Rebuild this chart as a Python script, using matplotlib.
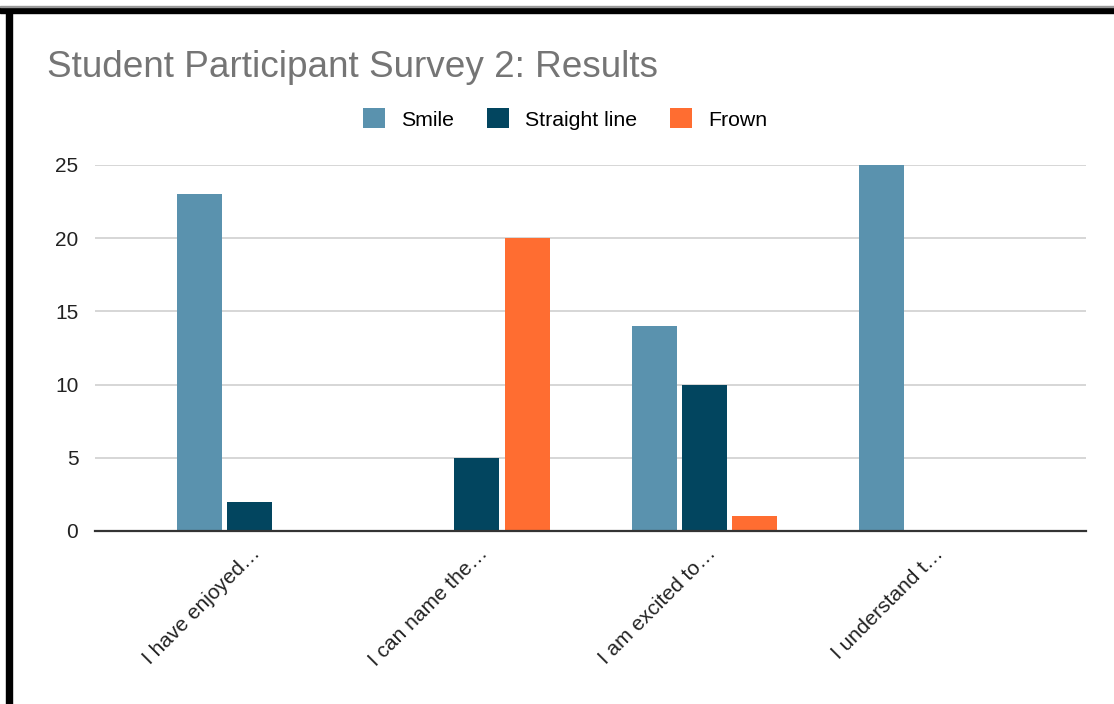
import numpy as np
import matplotlib.pyplot as plt
import matplotlib.transforms as mtransforms
from matplotlib.patches import Rectangle

plt.rcParams['font.family'] = ['Liberation Sans', 'DejaVu Sans']

categories = ["I have enjoyed…", "I can name the…", "I am excited to…", "I understand t…"]
series_names = ["Smile", "Straight line", "Frown"]
smile = [23, 0, 14, 25]
straight_line = [2, 5, 10, 0]
frown = [0, 20, 1, 0]
y_ticks = [0, 5, 10, 15, 20, 25]

colors = ["#5a92ae", "#02455f", "#ff6d31"]

fig = plt.figure(figsize=(11.14, 7.04), dpi=100)
W, H = 1114, 704
ax = fig.add_axes([95 / W, 1 - 531 / H, (1086 - 95) / W, (531 - 165) / H])

x = np.arange(len(categories))
bar_w = 0.198
step = 0.22
handles = []
for i, (vals, name) in enumerate(zip([smile, straight_line, frown], series_names)):
    b = ax.bar(x + (i - 1) * step, vals, width=bar_w, color=colors[i], label=name, zorder=3)
    handles.append(b)

ax.set_xlim(-0.679, 3.677)
ax.set_ylim(0, 25)
ax.set_yticks(y_ticks)
ax.tick_params(axis='y', length=0, labelsize=15, pad=12, colors='#222222')
ax.set_xticks(x)
ax.set_xticklabels(categories, rotation=45, ha='right', va='center', rotation_mode='anchor',
                   fontsize=15, color='#222222')
ax.tick_params(axis='x', length=0, pad=14)
# nudge the rotated labels a little to the right
shift = mtransforms.ScaledTranslation(8 / 100, 0, fig.dpi_scale_trans)
for lbl in ax.get_xticklabels():
    lbl.set_transform(lbl.get_transform() + shift)
ax.grid(axis='y', color='#cccccc', linewidth=1.1, zorder=0)
for s in ['top', 'right', 'left']:
    ax.spines[s].set_visible(False)
ax.spines['bottom'].set_color('#333333')
ax.spines['bottom'].set_linewidth(1.6)
ax.spines['bottom'].set_zorder(4)

fig.text(47 / W, 1 - 77 / H, "Student Participant Survey 2: Results", fontsize=26.6,
         color='#757575', va='baseline', ha='left')

fig.legend(handles=handles, labels=series_names, loc='center', bbox_to_anchor=(565 / W, 1 - 119 / H),
           ncol=3, frameon=False, fontsize=15.3, handlelength=1.05, handleheight=1.05,
           handletextpad=0.75, columnspacing=1.55)

# black frame on top and left
fig.add_artist(Rectangle((0, 1 - 13 / H), 1, 6 / H, transform=fig.transFigure, color='black', zorder=10))
fig.add_artist(Rectangle((6 / W, 0), 6 / W, 1 - 7 / H, transform=fig.transFigure, color='black', zorder=10))
fig.add_artist(Rectangle((0, 1 - 7 / H), 1, 1 / H, transform=fig.transFigure, color='#999999', zorder=10))

fig.savefig("out.png", dpi=100)
